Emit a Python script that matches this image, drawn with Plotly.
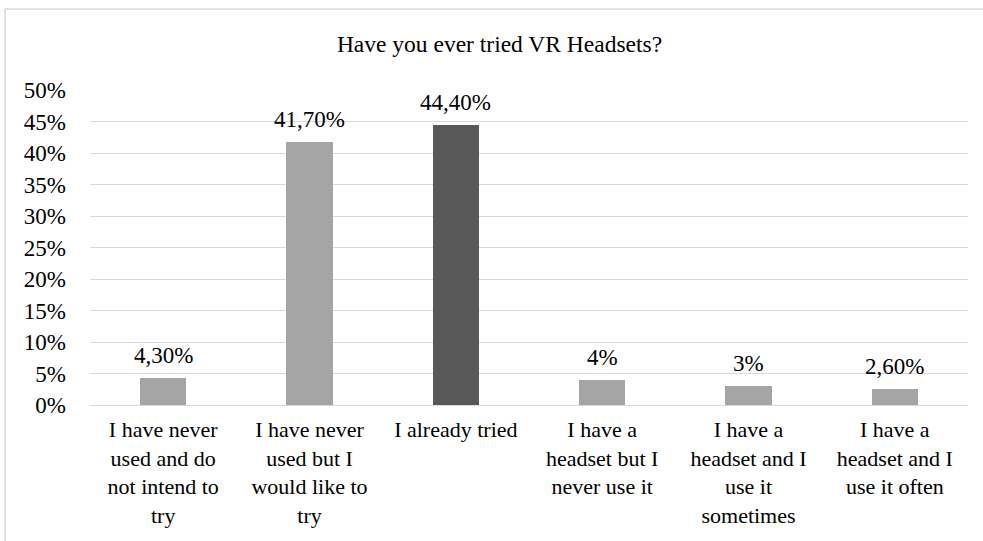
import plotly.graph_objects as go

categories = [
    "I have never<br>used and do<br>not intend to<br>try",
    "I have never<br>used but I<br>would like to<br>try",
    "I already tried",
    "I have a<br>headset but I<br>never use it",
    "I have a<br>headset and I<br>use it<br>sometimes",
    "I have a<br>headset and I<br>use it often",
]
values = [4.3, 41.7, 44.4, 4.0, 3.0, 2.6]
value_labels = ["4,30%", "41,70%", "44,40%", "4%", "3%", "2,60%"]
bar_colors = ["#A5A5A5", "#A5A5A5", "#595959", "#A5A5A5", "#A5A5A5", "#A5A5A5"]
y_ticks = [0, 5, 10, 15, 20, 25, 30, 35, 40, 45, 50]
y_tick_labels = [f"{t}%" for t in y_ticks]

FONT = "Liberation Serif"

fig = go.Figure()
fig.add_trace(go.Bar(
    x=list(range(len(categories))),
    y=values,
    marker=dict(color=bar_colors, line=dict(width=0)),
    width=0.315,
    hoverinfo="skip",
))

# value labels above each bar
for i, (v, lab) in enumerate(zip(values, value_labels)):
    fig.add_annotation(
        x=i, y=v, text=lab, showarrow=False,
        yanchor="bottom", yshift=8,
        font=dict(family=FONT, size=23, color="#000000"),
    )

L, R, T, B = 90, 15, 90, 136
W, H = 983, 541
pw, ph = W - L - R, H - T - B

def px_x(px):
    return (px - L) / pw

def px_y(py):
    return (H - B - py) / ph

# outer chart frame (left and top edges)
frame = dict(color="#D9D9D9", width=1.5)
fig.add_shape(type="line", xref="paper", yref="paper",
              x0=px_x(5), x1=px_x(5), y0=px_y(9), y1=px_y(560), line=frame)
fig.add_shape(type="line", xref="paper", yref="paper",
              x0=px_x(5), x1=px_x(1000), y0=px_y(9), y1=px_y(9), line=frame)

fig.update_layout(
    width=W, height=H,
    margin=dict(l=L, r=R, t=T, b=B),
    paper_bgcolor="white",
    plot_bgcolor="white",
    showlegend=False,
    bargap=0,
    font=dict(family=FONT),
    title=dict(
        text="Have you ever tried VR Headsets?",
        x=499.5 / W, xanchor="center", y=1 - 44 / H, yanchor="middle",
        font=dict(family=FONT, size=23.5, color="#000000"),
    ),
    xaxis=dict(
        tickmode="array",
        tickvals=list(range(len(categories))),
        ticktext=categories,
        range=[-0.5, len(categories) - 0.5],
        showgrid=False,
        showline=False,
        zeroline=False,
        ticks="",
        tickangle=0,
        ticklabelstandoff=9,
        tickfont=dict(family=FONT, size=22, color="#000000"),
    ),
    yaxis=dict(
        range=[0, 50],
        tickmode="array",
        tickvals=y_ticks,
        ticktext=y_tick_labels,
        showgrid=True,
        gridcolor="#D9D9D9",
        gridwidth=1.3,
        zeroline=True,
        zerolinecolor="#D9D9D9",
        zerolinewidth=1.3,
        showline=False,
        ticks="",
        ticklabelstandoff=23,
        tickfont=dict(family=FONT, size=23, color="#000000"),
    ),
)

fig.write_html("out.html")
